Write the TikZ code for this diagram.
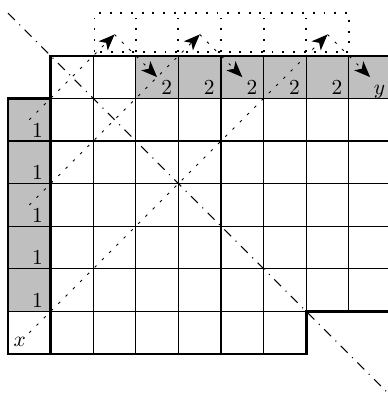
\documentclass[tikz,border=0pt]{standalone}
\usetikzlibrary{arrows.meta}
\begin{document}
\begin{tikzpicture}[x=0.7cm,y=0.7cm,
  gridline/.style={line width=0.5pt},
  outline/.style={line width=1.2pt, line join=miter},
  shade/.style={fill=lightgray, draw=none},
  dotbox/.style={line width=0.9pt, dash pattern=on 0.9pt off 4.1pt},
  dotdiag/.style={line width=0.45pt, dash pattern=on 1.2pt off 3.6pt},
  mainline/.style={line width=0.5pt, dash pattern=on 4.5pt off 3pt on 0.5pt off 3pt},
  arr/.style={-{Stealth[length=7.5pt,width=6pt,inset=2pt]}},
  lab/.style={anchor=base east, inner sep=0pt},
  labw/.style={anchor=base west, inner sep=0pt}]
\path[use as bounding box] (-0.188,-0.915) rectangle (8.92,8.31);
\clip (-0.188,-0.915) rectangle (8.92,8.31);

% shaded cells
\path[shade] (0,1) rectangle (1,6);
\path[shade] (3,6) rectangle (9.2,7);

% thin grid lines
\foreach \y in {1,...,5} \draw[gridline] (0,\y) -- (9.2,\y);
\draw[gridline] (1,6) -- (9.2,6);
\foreach \x in {2,...,7} \draw[gridline] (\x,0) -- (\x,7);
\draw[gridline] (8,1) -- (8,7);

% thick outline
\draw[outline] (1,6) -- (1,7) -- (9.2,7);
\draw[outline] (1,6) -- (0,6) -- (0,0) -- (7,0) -- (7,1) -- (9.2,1);
\draw[outline] (1,6) -- (1,0);

% dotted row above
\draw[dotbox] (2.03,7.1) rectangle (8,8);
\foreach \x in {3,...,7} \draw[dotbox] (\x,7.1) -- (\x,8);

% main dash-dot diagonal
\coordinate (d1) at (0,8);
\coordinate (d2) at (9.2,-1.2);
\draw[mainline] (d1) -- (d2);

% anti-diagonal paths with arrows
\coordinate (s1) at (0.5,5.5);
\coordinate (s3) at (0.5,3.5);
\coordinate (s6) at (0.5,0.5);
\coordinate (t2) at (2.5,7.5);
\coordinate (t4) at (4.5,7.5);
\coordinate (t7) at (7.5,7.5);
\coordinate (u3) at (3.5,6.5);
\coordinate (u5) at (5.5,6.5);
\coordinate (u8) at (8.5,6.5);
\draw[dotdiag,arr] (s1) -- (t2);
\draw[dotdiag,arr] (t2) -- (u3);
\draw[dotdiag,arr] (s3) -- (t4);
\draw[dotdiag,arr] (t4) -- (u5);
\draw[dotdiag,arr] (s6) -- (t7);
\draw[dotdiag,arr] (t7) -- (u8);

% labels
\foreach \y/\n in {1/a,2/b,3/c,4/d,5/e}
  \node[lab] (one\n) at (0.83,\y+0.09) {$1$};
\foreach \x/\n in {4/a,5/b,6/c,7/d,8/e}
  \node[lab] (two\n) at (\x-0.14,6.1) {$2$};
\node[lab] (ylab) at (8.86,6.1) {$y$};
\node[labw] (xlab) at (0.12,0.165) {$x$};
\end{tikzpicture}
\end{document}
